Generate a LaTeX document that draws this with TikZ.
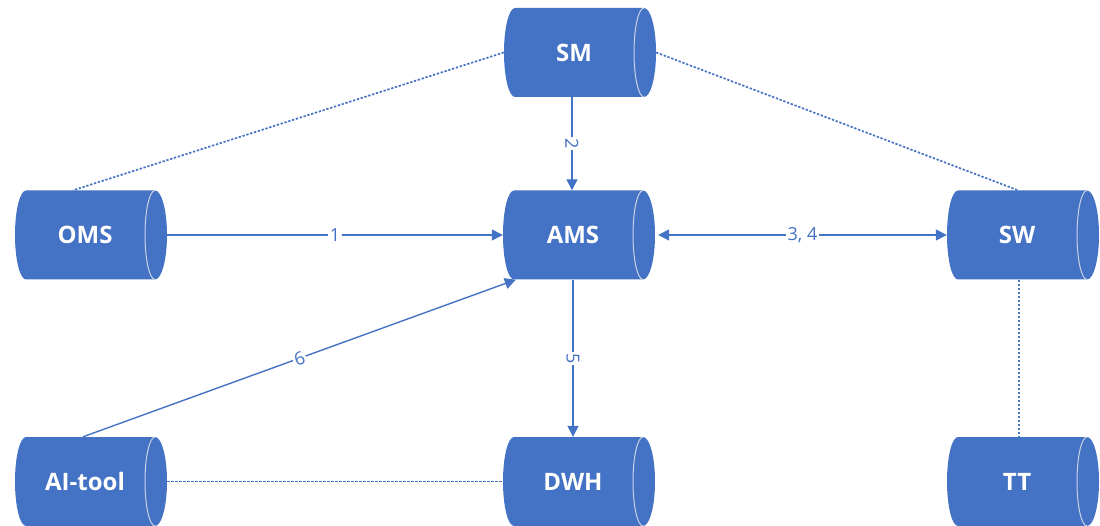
\documentclass[tikz,border=0pt]{standalone}
\usepackage{fontspec}
\setmainfont{Open Sans}
\usetikzlibrary{arrows.meta,calc}
\definecolor{obl}{HTML}{4472C4}
\definecolor{arcc}{HTML}{C9D3E6}
\tikzset{
  cylbox/.style={rectangle, minimum width=152pt, minimum height=89pt, inner sep=0pt},
  cyltext/.style={text=white, font=\fontsize{24}{28}\selectfont\bfseries, xshift=-6pt},
  conn/.style={draw=obl, line width=1.4pt},
  arr/.style={conn, -{Triangle[length=11pt,width=11pt]}},
  arrtwo/.style={conn, {Triangle[length=11pt,width=11pt]}-{Triangle[length=11pt,width=11pt]}},
  dotline/.style={draw=obl, line width=1.7pt, dash pattern=on 2.3pt off 1.7pt},
  elbl/.style={fill=white, text=obl, inner sep=1.5pt, font=\fontsize{18}{20}\selectfont}
}
\newcommand\drawcyl[4]{%
  \fill[obl] ($(#2,#3)+(-65,44.5)$) -- ++(129,0)
     arc[start angle=90,end angle=-90,x radius=12pt,y radius=44.5pt]
     -- ++(-129,0)
     arc[start angle=-90,end angle=-270,x radius=11pt,y radius=44.5pt] -- cycle;
  \draw[arcc, line width=1pt] ($(#2,#3)+(64,44.5)$)
     arc[start angle=90,end angle=270,x radius=10pt,y radius=44.5pt];
  \node[cylbox, label={[cyltext]center:#4}] (#1) at (#2,#3) {};
}
\begin{document}
\begin{tikzpicture}[x=1pt,y=1pt]
\useasboundingbox (0,0) rectangle (1100,525);
\drawcyl{SM}{580}{472.5}{SM}
\drawcyl{OMS}{91}{290}{OMS}
\drawcyl{AMS}{579}{290}{AMS}
\drawcyl{SW}{1023}{290}{SW}
\drawcyl{AI}{91}{43.5}{AI-tool}
\drawcyl{DWH}{579}{43.5}{DWH}
\drawcyl{TT}{1023}{43.5}{TT}

\draw[dotline] (SM.west) -- ($(OMS.north)+(-18,0)$);
\draw[dotline] (SM.east) -- ($(SW.north)+(-5,0)$);
\draw[arr] ($(SM.south)+(-8,0)$) -- node[elbl,rotate=-90]{2} ($(AMS.north)+(-7,0)$);
\draw[arr] (OMS.east) -- node[elbl]{1} (AMS.west);
\draw[arrtwo] ($(AMS.east)+(3,0)$) -- node[elbl]{3, 4} (SW.west);
\draw[arr] ($(AMS.south)+(-6,0)$) -- node[elbl,rotate=-90]{5} ($(DWH.north)+(-6,0)$);
\draw[arr] ($(AI.north)+(-8,0)$) -- node[elbl,sloped]{6} ($(AMS.south west)+(13,0)$);
\draw[dotline] (AI.east) -- (DWH.west);
\draw[dotline] ($(SW.south)+(-4,0)$) -- ($(TT.north)+(-4,0)$);
\end{tikzpicture}
\end{document}
